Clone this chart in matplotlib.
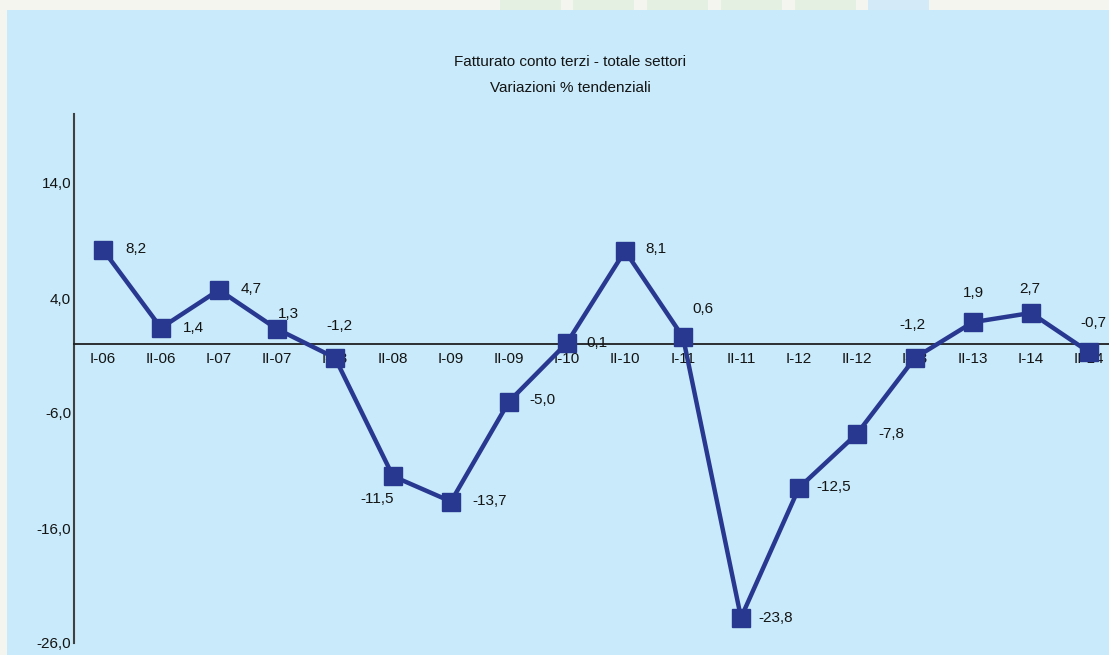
import numpy as np
import matplotlib
matplotlib.use("Agg")
import matplotlib.pyplot as plt
from matplotlib.patches import Rectangle

periods = ["I-06", "II-06", "I-07", "II-07", "I-08", "II-08", "I-09", "II-09", "I-10",
           "II-10", "I-11", "II-11", "I-12", "II-12", "I-13", "II-13", "I-14", "II-14"]
values = [8.2, 1.4, 4.7, 1.3, -1.2, -11.5, -13.7, -5.0, 0.1,
          8.1, 0.6, -23.8, -12.5, -7.8, -1.2, 1.9, 2.7, -0.7]
yticks = [-26, -16, -6, 4, 14]

# label offsets in pixels from each marker (dx, dy)
offsets = [(33, 1), (32, 0), (32, 1), (11, 15), (4, 32), (-16, -23), (39, 1), (33, 1), (30, 0),
           (31, 2), (20, 28), (35, 0), (35, 1), (34, 0), (-3, 33), (0, 29), (-1, 24), (4, 29)]

plt.rcParams['font.family'] = ['Liberation Sans Narrow', 'Liberation Sans', 'DejaVu Sans']
plt.rcParams['text.color'] = '#141414'
plt.rcParams['xtick.color'] = '#141414'
plt.rcParams['ytick.color'] = '#141414'

W, H = 1109, 655
fig = plt.figure(figsize=(W / 100, H / 100), dpi=100)
fig.patch.set_facecolor('#F5F5F0')

# light blue panel
fig.patches.append(Rectangle((7 / W, 0), 1, (H - 10) / H, transform=fig.transFigure,
                             facecolor='#C8EAFA', edgecolor='none', zorder=-5))
# faint blocks at the top strip
for x0, c in [(500, '#E4F0E2'), (573, '#E4F0E2'), (647, '#E4F0E2'), (721, '#E4F0E2'),
              (795, '#E4F0E2'), (868, '#D3EAF8')]:
    fig.patches.append(Rectangle((x0 / W, (H - 10) / H), 61 / W, 10 / H, transform=fig.transFigure,
                                 facecolor=c, edgecolor='none', zorder=-5))

ax = fig.add_axes([74 / W, 12 / H, 1044 / W, 529 / H])
ax.set_zorder(2)
ax.set_facecolor('none')
x = np.arange(len(periods))
ax.plot(x, values, color='#283890', lw=3.2, marker='s', ms=13, zorder=3, clip_on=False)

ax.set_xlim(-0.5, 17.5)
ax.set_ylim(-26, 20)
ax.spines['top'].set_visible(False)
ax.spines['right'].set_visible(False)
ax.spines['bottom'].set_position(('data', 0))
ax.spines['bottom'].set_color('#202020')
ax.spines['bottom'].set_linewidth(1.3)
ax.spines['left'].set_color('#404040')
ax.spines['left'].set_linewidth(1.5)

ax.set_xticks(x)
ax.set_xticklabels(periods)
ax.set_yticks(yticks)
ax.set_yticklabels([f"{v:.1f}".replace('.', ',') for v in yticks])
ax.tick_params(axis='x', length=0, pad=6, labelsize=11)
ax.tick_params(axis='y', length=0, pad=2, labelsize=11)

for xi, v, (dx, dy) in zip(x, values, offsets):
    ax.annotate(f"{v:.1f}".replace('.', ','), (xi, v), xytext=(dx, dy), textcoords='offset pixels',
                ha='center', va='center', fontsize=11, zorder=4)

fig.text(570 / W, 1 - 62 / H, "Fatturato conto terzi - totale settori", ha='center', va='center', fontsize=11)
fig.text(570 / W, 1 - 88 / H, "Variazioni % tendenziali", ha='center', va='center', fontsize=11)

fig.savefig('out.png', dpi=100, facecolor=fig.get_facecolor())
